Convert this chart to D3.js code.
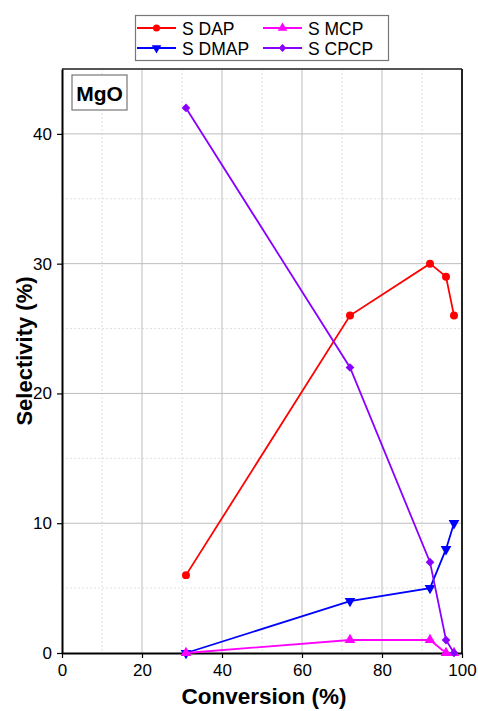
<!DOCTYPE html>
<meta charset="utf-8">
<title>Selectivity vs Conversion</title>
<style>
body { margin: 0; background: #fff; }
svg { font-family: "Liberation Sans", Arial, sans-serif; }
</style>
<body>
<script src="https://d3js.org/d3.v7.min.js"></script>
<script>

var conversion = [31, 72, 92, 96, 98];
var sDAP  = [6, 26, 30, 29, 26];
var sDMAP = [0, 4, 5, 8, 10];
var sMCP  = [0, 1, 1, 0, 0];
var sCPCP = [42, 22, 7, 1, 0];

var xTicks = [0, 20, 40, 60, 80, 100];
var yTicks = [0, 10, 20, 30, 40];

var series = [
  {name: "S DAP",  values: sDAP,  color: "#ff0000", symbol: d3.symbolCircle,   rot: 0,   size: 50},
  {name: "S DMAP", values: sDMAP, color: "#0000ff", symbol: d3.symbolTriangle, rot: 180, size: 50},
  {name: "S MCP",  values: sMCP,  color: "#ff00ff", symbol: d3.symbolTriangle, rot: 0,   size: 50},
  {name: "S CPCP", values: sCPCP, color: "#8a00ff", symbol: d3.symbolSquare,   rot: 45,  size: 38}
];

var W = 478, H = 711;
var margin = {top: 69, right: 16, bottom: 58, left: 62},
    width = W - margin.left - margin.right,
    height = H - margin.top - margin.bottom;

var svg = d3.select("body").append("svg")
    .attr("width", W)
    .attr("height", H);

var x = d3.scaleLinear().domain([0, 100]).range([0, width]);
var y = d3.scaleLinear().domain([0, 45]).range([height, 0]);

var g = svg.append("g")
    .attr("transform", "translate(" + margin.left + "," + margin.top + ")");

// minor grid (dotted)
g.append("g").selectAll("line")
    .data(d3.range(10, 100, 20))
  .enter().append("line")
    .attr("x1", d => x(d)).attr("x2", d => x(d))
    .attr("y1", 0).attr("y2", height)
    .attr("stroke", "#e0e0e0").attr("stroke-dasharray", "2,2");
g.append("g").selectAll("line")
    .data(d3.range(5, 46, 10))
  .enter().append("line")
    .attr("y1", d => y(d)).attr("y2", d => y(d))
    .attr("x1", 0).attr("x2", width)
    .attr("stroke", "#e0e0e0").attr("stroke-dasharray", "2,2");

// major grid
g.append("g").selectAll("line")
    .data(xTicks.slice(1, -1))
  .enter().append("line")
    .attr("x1", d => x(d)).attr("x2", d => x(d))
    .attr("y1", 0).attr("y2", height)
    .attr("stroke", "#bdbdbd");
g.append("g").selectAll("line")
    .data(yTicks.slice(1))
  .enter().append("line")
    .attr("y1", d => y(d)).attr("y2", d => y(d))
    .attr("x1", 0).attr("x2", width)
    .attr("stroke", "#bdbdbd");

// frame top/right
g.append("line").attr("x1", 0).attr("x2", width).attr("y1", 0).attr("y2", 0)
    .attr("stroke", "#555").attr("stroke-width", 2);
g.append("line").attr("x1", width).attr("x2", width).attr("y1", 0).attr("y2", height)
    .attr("stroke", "#222").attr("stroke-width", 2);

// axes
var xAxis = d3.axisBottom(x).tickValues(xTicks).tickSize(5).tickSizeOuter(0);
var yAxis = d3.axisLeft(y).tickValues(yTicks).tickSize(5).tickSizeOuter(0);

var gx = g.append("g").attr("transform", "translate(0," + height + ")").call(xAxis);
var gy = g.append("g").call(yAxis);

[gx, gy].forEach(function(a) {
  a.select(".domain").attr("stroke", "#000").attr("stroke-width", 2);
  a.selectAll(".tick line").attr("stroke", "#000").attr("stroke-width", 1.2);
  a.selectAll("text").attr("font-size", 17).attr("font-family", "Liberation Sans, Arial, sans-serif").attr("fill", "#000");
});
gx.selectAll("text").attr("dy", "0.9em");
gy.selectAll("text").attr("dx", "-2px");

// series
var line = d3.line()
    .x((d, i) => x(conversion[i]))
    .y(d => y(d));

series.forEach(function(s) {
  g.append("path")
      .datum(s.values)
      .attr("fill", "none")
      .attr("stroke", s.color)
      .attr("stroke-width", 1.8)
      .attr("d", line);
  g.append("g").selectAll("path")
      .data(s.values)
    .enter().append("path")
      .attr("d", d3.symbol().type(s.symbol).size(s.size))
      .attr("transform", (d, i) => "translate(" + x(conversion[i]) + "," + y(d) + ") rotate(" + s.rot + ")")
      .attr("fill", s.color);
});

// MgO label
svg.append("rect")
    .attr("x", 72).attr("y", 75).attr("width", 55).attr("height", 35)
    .attr("fill", "#fff").attr("stroke", "#777").attr("stroke-width", 1.2);
svg.append("text")
    .attr("x", 99.5).attr("y", 100.5)
    .attr("text-anchor", "middle")
    .attr("font-size", 21).attr("font-weight", "bold")
    .text("MgO");

// axis titles
svg.append("text")
    .attr("x", 264).attr("y", 704)
    .attr("text-anchor", "middle")
    .attr("font-size", 22.5).attr("font-weight", "bold")
    .text("Conversion (%)");
svg.append("text")
    .attr("transform", "translate(32,351) rotate(-90)")
    .attr("text-anchor", "middle")
    .attr("font-size", 22).attr("font-weight", "bold")
    .text("Selectivity (%)");

// legend
var legend = svg.append("g");
legend.append("rect")
    .attr("x", 135.5).attr("y", 15.5).attr("width", 253).attr("height", 45)
    .attr("fill", "#fff").attr("stroke", "#777").attr("stroke-width", 1.2);

var legPos = [[137, 28], [137, 48], [263, 28], [263, 48]];
series.forEach(function(s, i) {
  var p = legPos[i];
  var lg = legend.append("g").attr("transform", "translate(" + p[0] + "," + p[1] + ")");
  lg.append("line").attr("x1", 0).attr("x2", 39).attr("y1", 0).attr("y2", 0)
      .attr("stroke", s.color).attr("stroke-width", 1.8);
  lg.append("path")
      .attr("d", d3.symbol().type(s.symbol).size(s.size * 0.8))
      .attr("transform", "translate(19.5,0) rotate(" + s.rot + ")")
      .attr("fill", s.color);
  lg.append("text")
      .attr("x", 45).attr("y", 6.5)
      .attr("font-size", 17.5)
      .text(s.name);
});

</script>
</body>
